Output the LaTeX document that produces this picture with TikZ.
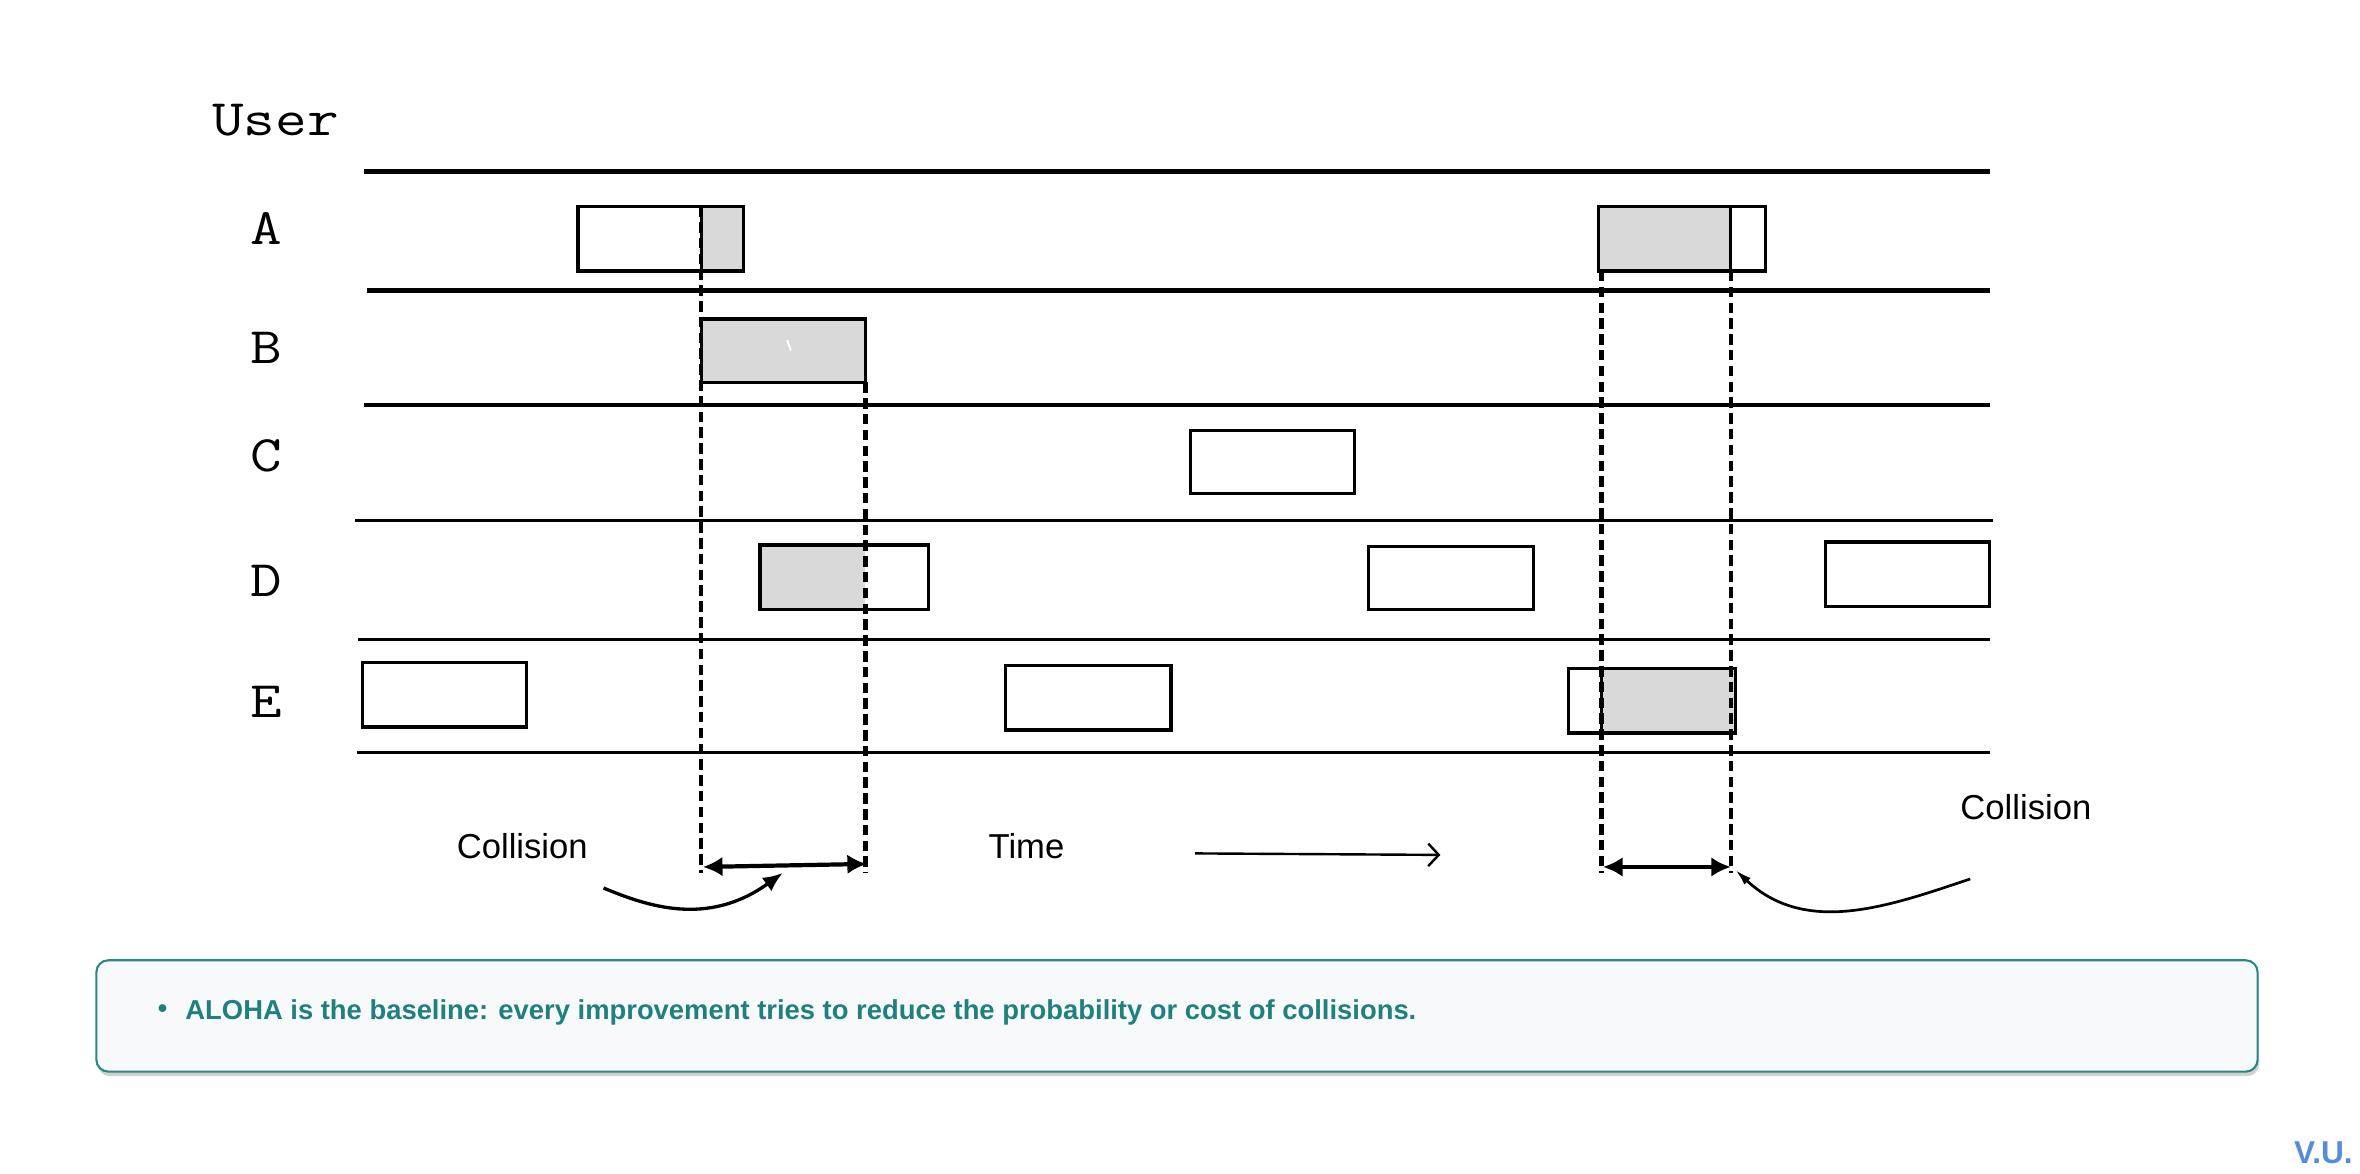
\documentclass[tikz,border=0pt]{standalone}
\usepackage{fontspec}
\setmainfont{Liberation Sans}
\usetikzlibrary{arrows.meta}
\definecolor{tealtxt}{HTML}{1F807D}
\definecolor{tealline}{HTML}{2A8985}
\definecolor{boxbg}{HTML}{F7F9FA}
\definecolor{gfill}{HTML}{D9D9D9}
\definecolor{vublue}{HTML}{558DD8}
\newcommand{\wideuser}[1]{\scalebox{1.2}[1]{#1}}
\begin{document}
\begin{tikzpicture}[x=1pt,y=-1pt,
  lanethick/.style={line width=3pt},
  lanethinner/.style={line width=2pt},
  pkt/.style={draw=black,line width=2.2pt},
  divider/.style={draw=black,line width=2pt},
  vdashed/.style={line width=2.8pt,dash pattern=on 7pt off 3.5pt},
  dblarrow/.style={line width=2.8pt,{Latex[length=13pt,width=13pt]}-{Latex[length=13pt,width=13pt]}},
  curvearrow/.style={line width=2.2pt,-{Latex[length=13pt,width=11pt]}},
  thinarrow/.style={line width=1.8pt,-{Latex[length=11pt,width=6pt]}},
  timearrow/.style={line width=1.6pt,-{Straight Barb[length=7pt,width=15pt,line width=1.6pt]}},
  lbl/.style={inner sep=0pt,font=\fontsize{23}{27}\selectfont},
  userlbl/.style={inner sep=0pt,font=\ttfamily\fontsize{34}{38}\selectfont}]
\useasboundingbox (0,0) rectangle (1568,779.4);

% lanes
\draw[lanethick] (242,114) -- (1322,114);
\draw[lanethick] (244,193) -- (1322,193);
\draw[lanethick] (242,269) -- (1322,269);
\draw[lanethinner] (236,346) -- (1324,346);
\draw[lanethinner] (238,425) -- (1322,425);
\draw[lanethinner] (237,500) -- (1322,500);

% user labels
\node[userlbl] (user) at (183,80) {\wideuser{User}};
\node[userlbl] (ua) at (177,152) {\wideuser{A}};
\node[userlbl] (ub) at (177,231) {\wideuser{B}};
\node[userlbl] (uc) at (177,303) {\wideuser{C}};
\node[userlbl] (ud) at (177,386) {\wideuser{D}};
\node[userlbl] (ue) at (177,466) {\wideuser{E}};

% packets row A
\fill[gfill] (466,137) rectangle (494,180);
\draw[pkt] (384,137) rectangle (494,180);
\draw[divider] (466,137) -- (466,180);
\fill[gfill] (1062,137) rectangle (1150,180);
\draw[pkt] (1062,137) rectangle (1173,180);
\draw[divider] (1150,137) -- (1150,180);
% row B
\draw[pkt,fill=gfill] (466,212) rectangle (575,254);
\draw[white,line width=1.2pt] (523,226) -- (525.5,233);
% row C
\draw[pkt] (791,286) rectangle (900,328);
% row D
\fill[gfill] (505,362) rectangle (575,405);
\draw[pkt] (505,362) rectangle (617,405);
\draw[pkt] (909,363) rectangle (1019,405);
\draw[pkt] (1213,360) rectangle (1322,403);
% row E
\draw[pkt] (241,440) rectangle (350,483);
\draw[pkt] (668,442) rectangle (778,485);
\fill[gfill] (1064,444) rectangle (1153,487);
\draw[pkt] (1042,444) rectangle (1153,487);
\draw[divider] (1064,444) -- (1064,487);

% dashed verticals
\coordinate (d1t) at (466,137);  \coordinate (d1b) at (466,580);
\coordinate (d2t) at (575,254);  \coordinate (d2b) at (575,580);
\coordinate (d3t) at (1064,180); \coordinate (d3b) at (1064,580);
\coordinate (d4t) at (1150,180); \coordinate (d4b) at (1150,580);
\draw[vdashed] (d1t) -- (d1b);
\draw[vdashed] (d2t) -- (d2b);
\draw[vdashed] (d3t) -- (d3b);
\draw[vdashed] (d4t) -- (d4b);

% collision spans
\coordinate (s1l) at (467,576); \coordinate (s1r) at (576,574);
\coordinate (s2l) at (1065,576); \coordinate (s2r) at (1150,576);
\draw[dblarrow] (s1l) -- (s1r);
\draw[dblarrow] (s2l) -- (s2r);

% texts
\node[lbl] (coll1) at (347,562) {Collision};
\node[lbl] (time) at (682,562) {Time};
\node[lbl] (coll2) at (1346,536) {Collision};

% time arrow
\coordinate (ta) at (794,567); \coordinate (tb) at (957,568);
\draw[timearrow] (ta) -- (tb);

% curved pointers
\coordinate (c1s) at (401,590); \coordinate (c1e) at (520,580);
\draw[curvearrow] (c1s) .. controls (430,602) and (470,616) .. (c1e);
\coordinate (c2s) at (1309,584); \coordinate (c2e) at (1153,578);
\draw[thinarrow] (c2s) .. controls (1255,602) and (1200,622) .. (c2e);

% note box
\fill[black!30,opacity=0.6,rounded corners=8pt] (65,641) rectangle (1501,715);
\draw[tealline,line width=1.4pt,fill=boxbg,rounded corners=8pt] (64,638) rectangle (1500,712);
\node[inner sep=0pt,text=tealtxt,font=\bfseries\fontsize{18}{22}\selectfont] (bul) at (108,672) {\textbullet};
\node[anchor=west,inner sep=0pt,text=tealtxt,font=\bfseries\fontsize{18.2}{22}\selectfont] (note) at (123,672.5) {ALOHA is the baseline: every improvement tries to reduce the probability or cost of collisions.};

% footer
\node[anchor=base west,inner sep=0pt,text=vublue,font=\bfseries\fontsize{21}{24}\selectfont] (vu) at (1524,773) {V.U.};
\end{tikzpicture}
\end{document}
